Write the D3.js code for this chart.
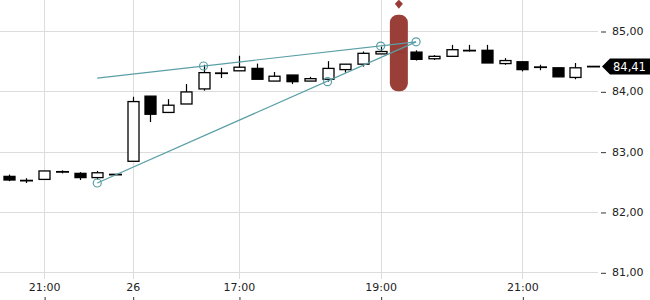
<!DOCTYPE html>
<html lang="de">
<head>
  <meta charset="UTF-8">
  <title>Candlestick chart</title>
  <script src="https://d3js.org/d3.v7.min.js"></script>
  <style>
    body {
      margin: 0;
      overflow: hidden;
      background: #fff;
    }
    svg {
      display: block;
      font-family: "DejaVu Sans", sans-serif;
    }
  </style>
</head>
<body>
  <svg id="chart" width="650" height="300"></svg>

  <script>
    // candle values (one per bar, left to right)
    const opens  = [82.59, 82.52, 82.54, 82.67, 82.64, 82.57, 82.62, 82.84, 83.92, 83.65, 83.79, 84.04, 84.30, 84.34, 84.38, 84.17, 84.27,
                    84.17, 84.20, 84.36, 84.45, 84.62, 84.65, 84.65, 84.54, 84.58, 84.68, 84.68, 84.46, 84.49, 84.40, 84.39, 84.23, 84.41];
    const highs  = [82.62, 82.56, 82.68, 82.69, 82.66, 82.68, 82.62, 83.91, 83.92, 83.87, 84.12, 84.44, 84.39, 84.59, 84.46, 84.32, 84.27,
                    84.24, 84.50, 84.45, 84.66, 84.74, 84.68, 84.68, 84.60, 84.77, 84.77, 84.77, 84.55, 84.49, 84.44, 84.39, 84.47, 84.41];
    const lows   = [82.51, 82.48, 82.54, 82.64, 82.53, 82.54, 82.62, 82.84, 83.49, 83.65, 83.79, 84.01, 84.22, 84.34, 84.20, 84.17, 84.12,
                    84.17, 84.16, 84.31, 84.41, 84.62, 84.60, 84.51, 84.52, 84.58, 84.66, 84.47, 84.44, 84.33, 84.35, 84.24, 84.20, 84.41];
    const closes = [82.53, 82.52, 82.68, 82.66, 82.57, 82.65, 82.62, 83.83, 83.62, 83.77, 83.99, 84.31, 84.30, 84.40, 84.20, 84.25, 84.16,
                    84.21, 84.38, 84.45, 84.63, 84.66, 84.65, 84.53, 84.58, 84.69, 84.67, 84.47, 84.51, 84.36, 84.40, 84.24, 84.39, 84.41];

    // time axis: bar index of each label
    const tickIndex  = [2, 7, 13, 21, 29];
    const tickLabels = ["21:00", "26", "17:00", "19:00", "21:00"];

    // price axis
    const priceTicks = [81, 82, 83, 84, 85];
    const lastPrice = 84.41;

    // drawn trend lines and their anchor points (bar index, price)
    const trendLines = [
      [[5, 84.22], [23, 84.82]],
      [[5, 82.48], [23, 84.82]]
    ];
    const anchors = [[5, 82.48], [11, 84.42], [18, 84.16], [21, 84.75], [23, 84.82]];

    // highlighted bar marker
    const marker = { index: 22, from: 85.27, to: 84.0 };

    const candles = opens.map((o, i) => ({ i, o, h: highs[i], l: lows[i], c: closes[i] }));

    const svg = d3.select("#chart");
    const plotRight = 598;

    const x = d3.scaleLinear().domain([0, candles.length - 1]).range([8.7, 593.2]);
    const y = d3.scaleLinear().domain([81, 85]).range([272.3, 31]);

    const fmt = d3.formatLocale({ decimal: ",", thousands: ".", grouping: [3], currency: ["", "€"] }).format(".2f");

    // horizontal grid
    svg.append("g")
      .selectAll("line")
      .data(priceTicks)
      .join("line")
      .attr("x1", 0)
      .attr("x2", plotRight)
      .attr("y1", d => Math.round(y(d)) + 0.5)
      .attr("y2", d => Math.round(y(d)) + 0.5)
      .attr("stroke", "#dcdcdc");

    // vertical grid
    svg.append("g")
      .selectAll("line")
      .data(tickIndex)
      .join("line")
      .attr("x1", d => Math.round(x(d)) + 0.5)
      .attr("x2", d => Math.round(x(d)) + 0.5)
      .attr("y1", 0)
      .attr("y2", 279)
      .attr("stroke", "#dcdcdc");

    // right price axis
    const yAxis = d3.axisRight(y)
      .tickValues(priceTicks)
      .tickFormat(fmt)
      .tickSize(5)
      .tickPadding(6);

    svg.append("g")
      .attr("transform", `translate(${plotRight + 3},0)`)
      .call(yAxis)
      .call(g => g.select(".domain").remove())
      .call(g => g.selectAll(".tick line").attr("x1", 0).attr("y1", 0.5).attr("y2", 0.5).attr("stroke", "#333"))
      .call(g => g.selectAll("text").attr("font-size", 11).attr("fill", "#222").attr("font-family", "DejaVu Sans"));

    // bottom time axis
    const xAxis = d3.axisBottom(x)
      .tickValues(tickIndex)
      .tickFormat((d, k) => tickLabels[k])
      .tickSize(0);

    const xg = svg.append("g")
      .attr("transform", "translate(0,280)")
      .call(xAxis)
      .call(g => g.select(".domain").remove())
      .call(g => g.selectAll("text").attr("font-size", 11).attr("fill", "#222").attr("font-family", "DejaVu Sans").attr("dy", "0.71em").attr("y", 3));

    xg.selectAll(".tick")
      .append("line")
      .attr("x1", 0.5).attr("x2", 0.5)
      .attr("y1", 17).attr("y2", 20)
      .attr("stroke", "#333");

    // candles
    const bodyW = 11;
    const cg = svg.append("g");

    cg.selectAll("line.wick")
      .data(candles)
      .join("line")
      .attr("class", "wick")
      .attr("x1", d => Math.round(x(d.i)) + 0.5)
      .attr("x2", d => Math.round(x(d.i)) + 0.5)
      .attr("y1", d => y(d.h))
      .attr("y2", d => y(d.l))
      .attr("stroke", "#000")
      .attr("stroke-width", 1.2);

    cg.selectAll("rect.body")
      .data(candles.filter(d => Math.abs(y(d.o) - y(d.c)) >= 1.5))
      .join("rect")
      .attr("class", "body")
      .attr("x", d => Math.round(x(d.i)) - bodyW / 2 + 0.5)
      .attr("width", bodyW)
      .attr("y", d => y(Math.max(d.o, d.c)))
      .attr("height", d => Math.abs(y(d.o) - y(d.c)))
      .attr("fill", d => d.c >= d.o ? "#fff" : "#000")
      .attr("stroke", "#000")
      .attr("stroke-width", 1.3);

    cg.selectAll("line.flat")
      .data(candles.filter(d => Math.abs(y(d.o) - y(d.c)) < 1.5))
      .join("line")
      .attr("class", "flat")
      .attr("x1", d => Math.round(x(d.i)) - bodyW / 2 - 0.5)
      .attr("x2", d => Math.round(x(d.i)) + bodyW / 2 + 1.5)
      .attr("y1", d => y((d.o + d.c) / 2))
      .attr("y2", d => y((d.o + d.c) / 2))
      .attr("stroke", "#000")
      .attr("stroke-width", 1.8);

    // highlighted marker
    const mx = x(marker.index) + 0.5;
    svg.append("rect")
      .attr("x", mx - 9)
      .attr("width", 18)
      .attr("y", y(marker.from))
      .attr("height", y(marker.to) - y(marker.from))
      .attr("rx", 8)
      .attr("fill", "#973b34")
      .attr("opacity", 0.98);

    svg.append("path")
      .attr("d", `M${mx - 4},${y(marker.from) - 11} L${mx},${y(marker.from) - 15} L${mx + 4},${y(marker.from) - 11} L${mx},${y(marker.from) - 6} Z`)
      .attr("fill", "#973b34");

    // trend lines
    const line = d3.line().x(d => x(d[0])).y(d => y(d[1]));
    svg.append("g")
      .selectAll("path")
      .data(trendLines)
      .join("path")
      .attr("d", line)
      .attr("fill", "none")
      .attr("stroke", "#5a9fa6")
      .attr("stroke-width", 1.2);

    svg.append("g")
      .selectAll("circle")
      .data(anchors)
      .join("circle")
      .attr("cx", d => x(d[0]))
      .attr("cy", d => y(d[1]))
      .attr("r", 4)
      .attr("fill", "none")
      .attr("stroke", "#5a9fa6")
      .attr("stroke-width", 1.2);

    // last price tag
    const ly = y(lastPrice);
    const tag = svg.append("g").attr("transform", `translate(0,${ly})`);
    tag.append("path")
      .attr("d", "M602,0 L610,-8 L650,-8 L650,8 L610,8 Z")
      .attr("fill", "#000");
    tag.append("text")
      .attr("x", 613)
      .attr("y", 0)
      .attr("dy", "0.36em")
      .attr("font-size", 11.5)
      .attr("fill", "#fff")
      .text(fmt(lastPrice));
  </script>
</body>
</html>
